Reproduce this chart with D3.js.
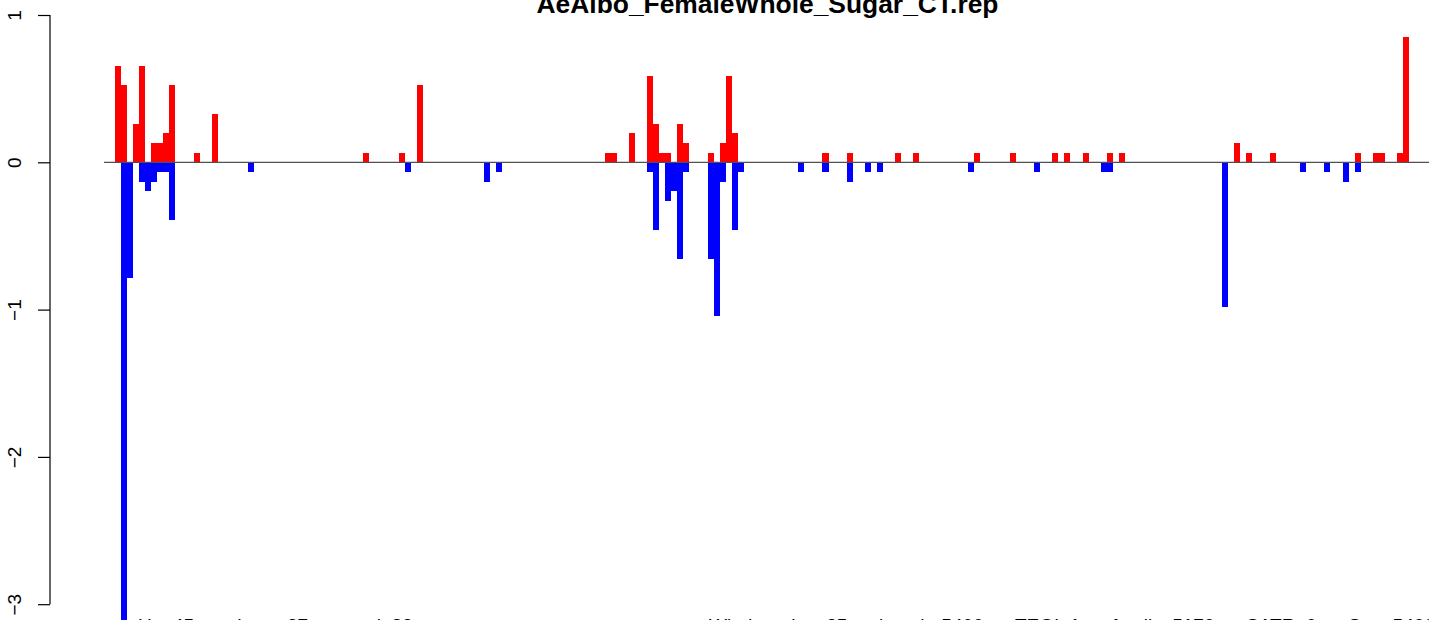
<!DOCTYPE html>
<html>
<head>
<meta charset="utf-8">
<script src="https://cdn.jsdelivr.net/npm/d3@7"></script>
<style>
  html, body { margin: 0; padding: 0; background: #fff; overflow: hidden; }
  svg { display: block; }
  text { font-family: "Liberation Sans", Arial, Helvetica, sans-serif; }
  .note { white-space: pre; }
</style>
</head>
<body>
<svg id="chart" width="1429" height="620"></svg>
<script>
// ---- data ----
const chartTitle = "AeAlbo_FemaleWhole_Sugar_CT.rep";
const slotCount = 214;
const upIndex = [0, 1, 3, 4, 6, 7, 8, 9, 13, 16, 41, 47, 50,
  81, 82, 85, 88, 89, 90, 91, 93, 94, 98, 100, 101, 102,
  117, 121, 129, 132, 142, 148, 155, 157, 160, 164, 166,
  185, 187, 191, 205, 208, 209, 212, 213];
const upValue = [0.654, 0.523, 0.262, 0.654, 0.131, 0.131, 0.196, 0.523, 0.065, 0.327, 0.065, 0.065, 0.523,
  0.065, 0.065, 0.196, 0.589, 0.262, 0.065, 0.065, 0.262, 0.131, 0.065, 0.131, 0.589, 0.196,
  0.065, 0.065, 0.065, 0.065, 0.065, 0.065, 0.065, 0.065, 0.065, 0.065, 0.065,
  0.131, 0.065, 0.065, 0.065, 0.065, 0.065, 0.065, 0.850];
const downIndex = [1, 2, 4, 5, 6, 7, 8, 9, 22, 48, 61, 63,
  88, 89, 91, 92, 93, 94, 98, 99, 100, 102, 103,
  113, 117, 121, 124, 126, 141, 152, 163, 164,
  183, 196, 200, 203, 205];
const downValue = [-3.27, -0.785, -0.131, -0.196, -0.131, -0.065, -0.065, -0.392, -0.065, -0.065, -0.131, -0.065,
  -0.065, -0.458, -0.262, -0.196, -0.654, -0.065, -0.654, -1.046, -0.131, -0.458, -0.065,
  -0.065, -0.065, -0.131, -0.065, -0.065, -0.065, -0.065, -0.065, -0.065,
  -0.981, -0.065, -0.065, -0.131, -0.065];
const yTicks = [1, 0, -1, -2, -3];
const leftNote = "Up: 45       down: 37       total: 82";
const rightNote = "Window size: 25      length: 5400      TEGI: 1      family: 5170      SATR: 0      Seq: 5400";

// ---- scales ----
const svg = d3.select("#chart");
const x = d3.scaleLinear().domain([0, slotCount]).range([115, 115 + slotCount * 6.047]);
const y = d3.scaleLinear().domain([-3, 1]).range([604.2, 15]);

// bars
const up = upIndex.map((i, k) => ({ i, v: upValue[k] }));
const down = downIndex.map((i, k) => ({ i, v: downValue[k] }));

svg.append("g").selectAll("rect").data(up).join("rect")
  .attr("x", d => x(d.i))
  .attr("width", d => x(d.i + 1) - x(d.i))
  .attr("y", d => y(d.v))
  .attr("height", d => y(0) - y(d.v))
  .attr("fill", "#ff0000")
  .attr("shape-rendering", "crispEdges");

svg.append("g").selectAll("rect").data(down).join("rect")
  .attr("x", d => x(d.i))
  .attr("width", d => x(d.i + 1) - x(d.i))
  .attr("y", y(0))
  .attr("height", d => y(d.v) - y(0))
  .attr("fill", "#0000ff")
  .attr("shape-rendering", "crispEdges");

// zero line
svg.append("line")
  .attr("x1", 104).attr("x2", 1429)
  .attr("y1", y(0)).attr("y2", y(0))
  .attr("stroke", "#505050").attr("stroke-width", 1.2);

// y axis
const axis = d3.axisLeft(y).tickValues(yTicks).tickSize(12).tickPadding(0)
  .tickFormat(d => d3.format("d")(d).replace("-", "\u2212"));
const gAxis = svg.append("g").attr("transform", "translate(50,0)").call(axis);
gAxis.select(".domain").attr("stroke", "#000").attr("stroke-width", 1.2)
  .attr("d", `M0,${y(1)}V${y(-3)}`);
gAxis.selectAll(".tick line").attr("stroke", "#000").attr("stroke-width", 1.2);
gAxis.selectAll(".tick text")
  .attr("x", null).attr("dy", null)
  .attr("transform", "translate(-29,0) rotate(-90)")
  .attr("text-anchor", "middle")
  .attr("font-size", 19)
  .attr("fill", "#000");

// title
svg.append("text")
  .attr("x", 767.5).attr("y", 12.5)
  .attr("text-anchor", "middle")
  .attr("font-weight", "bold")
  .attr("font-size", 26.4)
  .attr("fill", "#000")
  .text(chartTitle);

// bottom notes (mostly outside the window, as in the reference)
svg.append("text").attr("class", "note").attr("x", 138).attr("y", 632).attr("font-size", 19).attr("fill", "#000").text(leftNote);
svg.append("text").attr("class", "note").attr("x", 709).attr("y", 632).attr("font-size", 19).attr("fill", "#000").text(rightNote);
</script>
</body>
</html>
